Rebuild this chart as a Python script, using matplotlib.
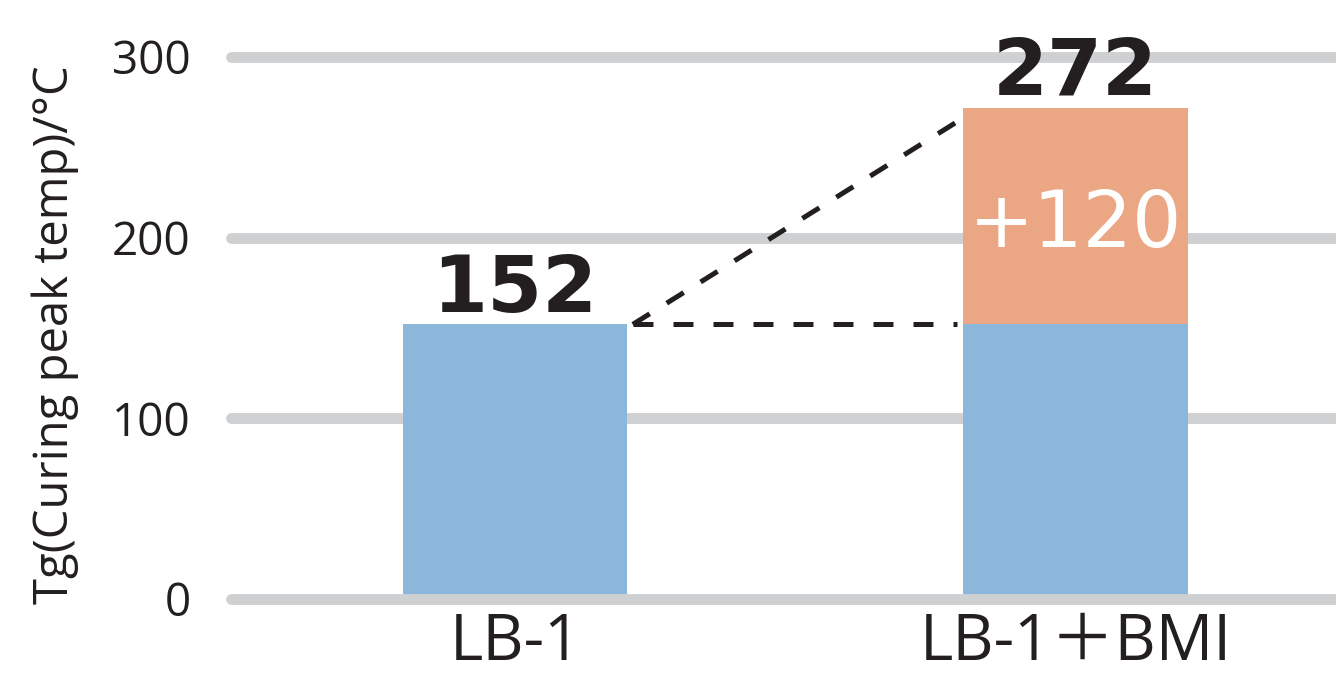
import matplotlib
matplotlib.use("Agg")
import matplotlib.pyplot as plt

# data
categories = ["LB-1", "LB-1＋BMI"]
base_values = [152, 152]
added_values = [0, 120]
total_labels = ["152", "272"]
y_ticks = [0, 100, 200, 300]

blue = "#8cb6da"
orange = "#eba784"
grid_gray = "#cfd0d2"
ink = "#231f20"

fig = plt.figure(figsize=(13.36, 6.82), dpi=100)
ax = fig.add_axes([231 / 1336, 83 / 682, 1 - 231 / 1336, 542 / 682])

x = [0, 1]
w = 0.4
ax.bar(x, base_values, width=w, color=blue, zorder=2)
ax.bar(x, added_values, width=w, bottom=base_values, color=orange, zorder=2)

# grid lines (zero line over the bars)
for t in y_ticks:
    ax.axhline(t, xmin=0, xmax=1, color=grid_gray, lw=7.8, solid_capstyle="round",
               clip_on=False, zorder=3 if t == 0 else 1)

ax.set_xlim(-0.507, 1.465)
ax.set_ylim(0, 300)

# value labels
totals = [b + a for b, a in zip(base_values, added_values)]
for xi, tot, lab in zip(x, totals, total_labels):
    ax.text(xi, tot + 7, lab, ha="center", va="baseline", fontsize=57,
            fontweight="bold", family="DejaVu Sans", color=ink)
mid = base_values[1] + added_values[1] / 2
ax.text(x[1], mid - 17, f"+{added_values[1]}", ha="center", va="baseline",
        fontsize=56, color="white", family="DejaVu Sans")

# dashed guide lines
x0 = x[0] + w / 2 + 0.01
x1 = x[1] - w / 2 - 0.012
ax.plot([x0, x1], [base_values[0], base_values[0]], color=ink, lw=3.6,
        dashes=(4, 4), zorder=4)
ax.plot([x0, x1], [base_values[0], totals[1] - 8], color=ink, lw=3.6,
        dashes=(4, 4), zorder=4)

ax.set_yticks(y_ticks)
ax.set_yticklabels([str(t) for t in y_ticks], fontsize=33, family="Open Sans", color=ink)
ax.set_xticks(x)
ax.set_xticklabels(categories, fontsize=46, family=["Open Sans", "Noto Sans CJK JP"], color=ink)
ax.tick_params(axis="y", length=0, pad=29)
ax.tick_params(axis="x", length=0, pad=9)

ax.set_ylabel("Tg(Curing peak temp)/°C", fontsize=34, family="Open Sans", color=ink)
ax.yaxis.set_label_coords(-0.138, 0.487)

for s in ax.spines.values():
    s.set_visible(False)

fig.savefig("out.png", dpi=100)
